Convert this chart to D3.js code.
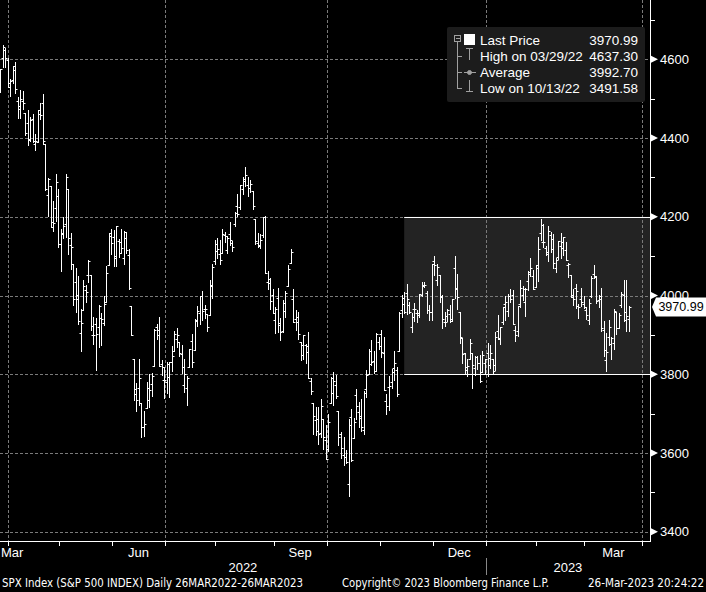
<!DOCTYPE html>
<html><head><meta charset="utf-8">
<script src="https://cdn.jsdelivr.net/npm/d3@7"></script>
<style>html,body{margin:0;padding:0;background:#000;overflow:hidden}</style>
</head><body>
<svg id="c" width="706" height="592"></svg>
<script>
// ---------- DATA (SPX daily, 28 Mar 2022 – 24 Mar 2023) ----------
const dates = [
"2022-03-28","2022-03-29","2022-03-30","2022-03-31","2022-04-01","2022-04-04","2022-04-05","2022-04-06","2022-04-07","2022-04-08",
"2022-04-11","2022-04-12","2022-04-13","2022-04-14","2022-04-18","2022-04-19","2022-04-20","2022-04-21","2022-04-22","2022-04-25",
"2022-04-26","2022-04-27","2022-04-28","2022-04-29","2022-05-02","2022-05-03","2022-05-04","2022-05-05","2022-05-06","2022-05-09",
"2022-05-10","2022-05-11","2022-05-12","2022-05-13","2022-05-16","2022-05-17","2022-05-18","2022-05-19","2022-05-20","2022-05-23",
"2022-05-24","2022-05-25","2022-05-26","2022-05-27","2022-05-31","2022-06-01","2022-06-02","2022-06-03","2022-06-06","2022-06-07",
"2022-06-08","2022-06-09","2022-06-10","2022-06-13","2022-06-14","2022-06-15","2022-06-16","2022-06-17","2022-06-21","2022-06-22",
"2022-06-23","2022-06-24","2022-06-27","2022-06-28","2022-06-29","2022-06-30","2022-07-01","2022-07-05","2022-07-06","2022-07-07",
"2022-07-08","2022-07-11","2022-07-12","2022-07-13","2022-07-14","2022-07-15","2022-07-18","2022-07-19","2022-07-20","2022-07-21",
"2022-07-22","2022-07-25","2022-07-26","2022-07-27","2022-07-28","2022-07-29","2022-08-01","2022-08-02","2022-08-03","2022-08-04",
"2022-08-05","2022-08-08","2022-08-09","2022-08-10","2022-08-11","2022-08-12","2022-08-15","2022-08-16","2022-08-17","2022-08-18",
"2022-08-19","2022-08-22","2022-08-23","2022-08-24","2022-08-25","2022-08-26","2022-08-29","2022-08-30","2022-08-31","2022-09-01",
"2022-09-02","2022-09-06","2022-09-07","2022-09-08","2022-09-09","2022-09-12","2022-09-13","2022-09-14","2022-09-15","2022-09-16",
"2022-09-19","2022-09-20","2022-09-21","2022-09-22","2022-09-23","2022-09-26","2022-09-27","2022-09-28","2022-09-29","2022-09-30",
"2022-10-03","2022-10-04","2022-10-05","2022-10-06","2022-10-07","2022-10-10","2022-10-11","2022-10-12","2022-10-13","2022-10-14",
"2022-10-17","2022-10-18","2022-10-19","2022-10-20","2022-10-21","2022-10-24","2022-10-25","2022-10-26","2022-10-27","2022-10-28",
"2022-10-31","2022-11-01","2022-11-02","2022-11-03","2022-11-04","2022-11-07","2022-11-08","2022-11-09","2022-11-10","2022-11-11",
"2022-11-14","2022-11-15","2022-11-16","2022-11-17","2022-11-18","2022-11-21","2022-11-22","2022-11-23","2022-11-25","2022-11-28",
"2022-11-29","2022-11-30","2022-12-01","2022-12-02","2022-12-05","2022-12-06","2022-12-07","2022-12-08","2022-12-09","2022-12-12",
"2022-12-13","2022-12-14","2022-12-15","2022-12-16","2022-12-19","2022-12-20","2022-12-21","2022-12-22","2022-12-23","2022-12-27",
"2022-12-28","2022-12-29","2022-12-30","2023-01-03","2023-01-04","2023-01-05","2023-01-06","2023-01-09","2023-01-10","2023-01-11",
"2023-01-12","2023-01-13","2023-01-17","2023-01-18","2023-01-19","2023-01-20","2023-01-23","2023-01-24","2023-01-25","2023-01-26",
"2023-01-27","2023-01-30","2023-01-31","2023-02-01","2023-02-02","2023-02-03","2023-02-06","2023-02-07","2023-02-08","2023-02-09",
"2023-02-10","2023-02-13","2023-02-14","2023-02-15","2023-02-16","2023-02-17","2023-02-21","2023-02-22","2023-02-23","2023-02-24",
"2023-02-27","2023-02-28","2023-03-01","2023-03-02","2023-03-03","2023-03-06","2023-03-07","2023-03-08","2023-03-09","2023-03-10",
"2023-03-13","2023-03-14","2023-03-15","2023-03-16","2023-03-17","2023-03-20","2023-03-21","2023-03-22","2023-03-23","2023-03-24"];

const opens = [
4541.09,4602.86,4624.20,4599.02,4540.32,4547.97,4572.45,4494.17,4474.65,4494.15,
4462.64,4437.59,4394.30,4449.12,4385.63,4390.63,4472.26,4489.17,4385.83,4255.34,
4278.14,4186.52,4222.58,4253.75,4130.61,4159.78,4181.18,4270.43,4128.17,4081.27,
4035.18,3990.08,3903.95,3963.90,4013.02,4052.00,4051.98,3899.00,3927.76,3919.42,
3942.94,3929.59,3984.60,4077.43,4151.09,4149.78,4095.41,4137.57,4134.72,4096.47,
4147.12,4101.65,3974.39,3838.15,3763.52,3764.05,3728.18,3665.90,3715.31,3733.89,
3774.71,3821.75,3920.76,3913.00,3825.09,3785.99,3781.00,3792.61,3831.98,3858.85,
3888.26,3880.94,3851.95,3771.94,3763.99,3818.00,3883.79,3860.73,3935.32,3955.47,
3998.43,3965.72,3953.22,3951.43,4026.13,4087.33,4112.38,4104.21,4107.96,4154.85,
4115.87,4155.93,4133.11,4181.02,4227.40,4225.02,4269.37,4290.46,4280.40,4273.13,
4266.31,4195.08,4133.09,4126.55,4153.26,4198.74,4034.58,4041.25,4000.67,3936.73,
3994.66,3930.89,3909.43,3959.94,4022.94,4083.67,3990.97,3940.73,3932.41,3880.95,
3849.91,3875.23,3871.40,3782.36,3727.14,3682.72,3686.44,3651.94,3687.01,3633.48,
3609.78,3726.46,3753.25,3771.97,3706.74,3647.51,3595.86,3590.83,3520.37,3690.41,
3638.65,3746.26,3703.11,3689.05,3657.10,3762.01,3799.44,3825.97,3834.69,3808.26,
3881.85,3901.79,3852.90,3733.25,3766.98,3780.71,3817.02,3810.94,3859.89,3963.72,
3977.97,4006.41,3976.82,3919.26,3966.39,3956.23,3956.23,4000.30,4023.34,4005.36,
3964.19,3957.18,4087.14,4040.17,4052.02,3996.63,3933.28,3947.79,3954.17,3939.29,
4069.38,4015.54,3958.37,3890.91,3853.79,3810.47,3839.49,3853.26,3815.11,3843.34,
3829.56,3805.45,3829.06,3853.29,3840.36,3839.74,3823.37,3910.82,3888.57,3932.35,
3977.57,3960.60,3999.28,4002.25,3911.84,3909.04,3978.14,4001.74,3982.71,4036.08,
4053.72,4049.27,4020.85,4070.07,4158.68,4136.69,4119.57,4105.35,4153.47,4144.25,
4068.92,4096.62,4126.70,4119.50,4114.75,4077.39,4052.35,4001.83,4018.60,3973.24,
3992.36,3977.19,3963.34,3938.68,3998.02,4055.15,4048.26,3987.55,3998.66,3912.77,
3835.12,3894.01,3876.74,3878.93,3958.69,3917.47,3975.89,4002.04,3959.21,3939.21];

const highs = [
4575.65,4637.30,4627.77,4603.07,4548.70,4583.50,4593.45,4503.94,4521.16,4520.41,
4464.35,4471.00,4453.92,4460.46,4410.31,4471.03,4488.29,4512.94,4385.83,4299.02,
4278.14,4240.71,4308.45,4269.68,4169.81,4200.10,4307.66,4270.43,4157.69,4081.27,
4068.82,4049.09,3964.80,4038.88,4026.17,4090.72,4051.98,3945.96,3943.42,3975.15,
3955.68,3999.33,4075.14,4158.49,4168.34,4166.54,4177.51,4142.67,4168.78,4164.86,
4160.14,4119.10,3974.39,3838.15,3778.18,3837.56,3728.18,3707.71,3779.65,3801.79,
3802.58,3913.65,3927.72,3945.86,3836.50,3818.99,3829.82,3832.19,3870.91,3910.63,
3918.50,3880.94,3873.41,3839.50,3796.41,3863.62,3902.44,3939.81,3974.13,3999.29,
4012.44,3975.30,3953.22,4039.56,4078.95,4140.15,4144.95,4140.47,4167.66,4161.29,
4151.58,4186.62,4137.30,4211.03,4257.91,4280.47,4301.79,4325.28,4302.18,4292.53,
4266.31,4195.08,4159.77,4156.56,4200.54,4203.04,4062.99,4044.98,4015.37,3970.23,
4018.43,3942.55,3987.89,4010.50,4076.81,4119.28,4017.17,3961.94,3959.14,3880.95,
3900.45,3876.01,3907.07,3790.20,3727.14,3715.67,3717.53,3736.74,3687.01,3671.44,
3698.35,3791.92,3806.91,3797.93,3706.74,3652.17,3640.66,3608.34,3685.41,3712.00,
3689.73,3762.79,3728.58,3736.00,3757.89,3810.74,3862.85,3886.15,3859.95,3905.42,
3893.73,3911.79,3894.44,3750.59,3796.34,3813.95,3859.40,3818.20,3958.33,4001.48,
4008.97,4028.84,3983.09,3954.33,3979.89,3962.00,4003.58,4033.78,4034.02,4012.27,
3976.77,4080.11,4100.51,4080.48,4052.45,4001.51,3957.57,3966.65,3977.02,3990.71,
4100.96,4053.76,3958.37,3890.91,3854.86,3838.24,3889.82,3853.26,3845.80,3846.65,
3848.32,3858.19,3839.85,3878.46,3873.16,3839.74,3906.19,3950.57,3919.83,3970.07,
3997.76,4003.95,4015.39,4014.16,3922.94,3972.96,4039.31,4023.92,4019.55,4061.57,
4094.21,4063.85,4077.16,4148.95,4195.44,4182.36,4124.63,4176.54,4160.77,4156.23,
4094.36,4138.90,4159.77,4148.11,4136.54,4081.51,4052.35,4017.37,4028.30,3978.25,
4018.05,3997.50,3971.73,3990.84,4048.29,4078.49,4050.00,4000.41,4017.81,3934.05,
3905.05,3937.29,3894.26,3964.46,3958.91,3956.62,4009.08,4039.49,4038.93,3972.74];

const lows = [
4517.69,4581.51,4581.32,4530.41,4507.57,4539.21,4514.17,4450.04,4450.30,4474.60,
4408.38,4381.34,4392.70,4390.77,4370.30,4390.63,4448.76,4384.47,4267.62,4200.82,
4175.04,4162.90,4188.63,4124.28,4062.51,4147.08,4148.91,4106.01,4067.91,3975.48,
3958.17,3928.82,3858.87,3963.90,3983.99,4033.93,3911.91,3876.58,3810.32,3868.10,
3875.13,3925.03,3984.60,4077.43,4104.88,4073.85,4074.37,4098.67,4109.18,4080.19,
4107.20,4017.17,3900.16,3734.30,3705.68,3722.30,3639.77,3643.41,3715.31,3717.69,
3743.52,3821.75,3889.66,3820.14,3799.02,3738.67,3752.10,3742.06,3809.37,3858.85,
3869.34,3847.22,3802.36,3756.12,3721.56,3817.18,3818.63,3860.73,3922.03,3926.62,
3938.85,3943.46,3910.74,3951.43,3992.97,4079.22,4096.02,4079.81,4107.96,4135.42,
4107.31,4128.97,4112.09,4177.26,4201.41,4219.78,4256.90,4277.77,4253.08,4261.98,
4218.70,4129.86,4124.03,4119.97,4147.59,4057.66,4017.42,3965.21,3954.53,3903.65,
3906.21,3886.75,3906.03,3944.81,4022.94,4083.67,3933.72,3912.56,3888.28,3837.08,
3838.50,3827.54,3789.49,3749.45,3647.47,3644.76,3623.29,3640.61,3610.40,3584.13,
3604.93,3726.46,3722.66,3739.22,3620.73,3588.10,3568.45,3573.86,3491.58,3579.68,
3638.65,3686.53,3666.51,3656.44,3647.42,3741.65,3799.44,3824.07,3803.79,3808.26,
3863.18,3843.80,3758.68,3698.15,3708.84,3764.70,3786.28,3744.22,3859.89,3944.82,
3956.40,3953.17,3954.34,3906.54,3935.98,3933.34,3946.65,3998.66,4020.76,3955.77,
3937.65,3938.58,4050.87,4026.63,3984.49,3918.39,3922.68,3935.83,3933.04,3935.30,
3993.03,3965.65,3879.45,3827.91,3800.04,3795.62,3839.49,3764.49,3797.01,3813.22,
3780.78,3805.45,3800.34,3794.33,3815.77,3802.42,3809.56,3890.42,3877.29,3928.54,
3937.56,3947.67,3984.57,3926.59,3885.54,3897.86,3971.64,3989.79,3949.06,4013.29,
4048.70,4015.55,4020.44,4037.20,4141.88,4123.36,4103.98,4088.39,4111.35,4069.67,
4060.79,4092.67,4095.01,4103.98,4089.49,4047.95,3995.19,3976.90,3969.19,3943.08,
3973.55,3968.98,3939.05,3928.16,3995.17,4044.61,3980.31,3969.76,3908.70,3846.32,
3808.86,3873.63,3838.24,3864.11,3901.27,3916.89,3971.19,3936.17,3909.16,3909.16];

const closes = [
4575.52,4631.60,4602.45,4530.41,4545.86,4582.64,4525.12,4481.15,4500.21,4488.28,
4412.53,4397.45,4446.59,4392.59,4391.69,4462.21,4459.45,4393.66,4271.78,4296.12,
4175.20,4183.96,4287.50,4131.93,4155.38,4175.48,4300.17,4146.87,4123.34,3991.24,
4001.05,3935.18,3930.08,4023.89,4008.01,4088.85,3923.68,3900.79,3901.36,3973.75,
3941.48,3978.73,4057.84,4158.24,4132.15,4101.23,4176.82,4108.54,4121.43,4160.68,
4115.77,4017.82,3900.86,3749.63,3735.48,3789.99,3666.77,3674.84,3764.79,3759.89,
3795.73,3911.74,3900.11,3821.55,3818.83,3785.38,3825.33,3831.39,3845.08,3902.62,
3899.38,3854.43,3818.80,3801.78,3790.38,3863.16,3830.85,3936.69,3959.90,3998.95,
3961.63,3966.84,3921.05,4023.61,4072.43,4130.29,4118.63,4091.19,4155.17,4151.94,
4145.19,4140.06,4122.47,4210.24,4207.27,4280.15,4297.14,4305.20,4274.04,4283.74,
4228.48,4137.99,4128.73,4140.77,4199.12,4057.66,4030.61,3986.16,3955.00,3966.85,
3924.26,3908.19,3979.87,4006.18,4067.36,4110.41,3932.69,3946.01,3901.35,3873.33,
3899.89,3855.93,3789.93,3757.99,3693.23,3655.04,3647.29,3719.04,3640.47,3585.62,
3678.43,3790.93,3783.28,3744.52,3639.66,3612.39,3588.84,3577.03,3669.91,3583.07,
3677.95,3719.98,3695.16,3665.78,3752.75,3797.34,3859.11,3830.60,3807.30,3901.06,
3871.98,3856.10,3759.69,3719.89,3770.55,3806.80,3828.11,3748.57,3956.37,3992.93,
3957.25,3991.73,3958.79,3946.56,3965.34,3949.94,4003.58,4027.26,4026.12,3963.94,
3957.63,4080.11,4076.57,4071.70,3998.84,3941.26,3933.92,3963.51,3934.38,3990.56,
4019.65,3995.32,3895.75,3852.36,3817.66,3821.62,3878.44,3822.39,3844.82,3829.25,
3783.22,3849.28,3839.50,3824.14,3852.97,3808.10,3895.08,3892.09,3919.25,3969.61,
3983.17,3999.09,3990.97,3928.86,3898.85,3972.61,4019.81,4016.95,4016.22,4060.43,
4070.56,4017.77,4076.60,4119.21,4179.76,4136.48,4111.08,4164.00,4117.86,4081.50,
4090.46,4137.29,4136.13,4147.60,4090.41,4079.09,3997.34,3991.05,4012.32,3970.04,
3982.24,3970.15,3951.39,3981.35,4045.64,4048.42,3986.37,3992.01,3918.32,3861.59,
3855.76,3919.29,3891.93,3960.28,3916.64,3951.57,4002.87,3936.97,3948.72,3970.99];

// trading days on the axis after the last bar
const extraAxisDates = ["2023-03-27","2023-03-28","2023-03-29","2023-03-30","2023-03-31","2023-04-03"];
const yTicks = [3400, 3600, 3800, 4000, 4200, 4400, 4600];
const yMinorTicks = [3500, 3700, 3900, 4100, 4300, 4500, 4700];
const monthLabelKeys = ["2022-03","2022-06","2022-09","2022-12","2023-03"];
const monthLabelTexts = ["Mar","Jun","Sep","Dec","Mar"];
const gridMonths = ["01","04","07","10"];
const yearLabels = ["2022","2023"];
const boxRange = [3800, 4200];
const boxStartDate = "2022-11-14";
const legendNames = ["Last Price","High on 03/29/22","Average","Low on 10/13/22"];
const legendValues = ["3970.99","4637.30","3992.70","3491.58"];
const lastPrice = 3970.99;
const footerTexts = ["SPX Index (S&P 500 INDEX)  Daily 26MAR2022-26MAR2023","Copyright\u00A9 2023 Bloomberg Finance L.P.","26-Mar-2023 20:24:22"];

// ---------- DRAW ----------
const svg = d3.select("#c");
const FONT = "'Liberation Sans', Arial, sans-serif";
const NARROW = "'DejaVu Sans Condensed','Liberation Sans Narrow','Liberation Sans',sans-serif";
const plotRight = 650, plotBottom = 541;
svg.append("rect").attr("width",706).attr("height",592).attr("fill","#000");

const axisDates = dates.concat(extraAxisDates);
const x = d3.scaleLinear().domain([0, 249]).range([0, 629]);
const y = d3.scaleLinear().domain([3400, 4600]).range([531.7, 59.3]);
const px = v => Math.round(v) + 0.5;

const monthStarts = [];
axisDates.forEach((d, i) => {
  if (i > 0 && d.slice(0,7) !== axisDates[i-1].slice(0,7)) monthStarts.push({i, key: d.slice(0,7)});
});
const tickX = i => x(i - 0.7);

// highlight box
const bx0 = x(dates.indexOf(boxStartDate));
svg.append("rect").attr("x", bx0).attr("y", y(boxRange[1]))
  .attr("width", plotRight - bx0).attr("height", y(boxRange[0]) - y(boxRange[1]))
  .attr("fill", "#232323");

// grid
const grid = svg.append("g").attr("stroke", "#7a7a7a").attr("stroke-width", 1).attr("stroke-dasharray", "3,2");
yTicks.forEach(v => grid.append("line").attr("x1", 0).attr("x2", plotRight).attr("y1", px(y(v))).attr("y2", px(y(v))));
monthStarts.filter(m => gridMonths.includes(m.key.slice(5))).forEach(m =>
  grid.append("line").attr("x1", px(tickX(m.i))).attr("x2", px(tickX(m.i))).attr("y1", 0).attr("y2", plotBottom));

// box edges
boxRange.forEach(v => svg.append("line").attr("x1", bx0).attr("x2", plotRight)
  .attr("y1", px(y(v))).attr("y2", px(y(v))).attr("stroke", "#fff").attr("stroke-width", 1));

// OHLC bars
const bars = svg.append("g").attr("stroke", "#fff").attr("stroke-width", 1).attr("fill", "none");
dates.forEach((d, i) => {
  const cx = px(x(i));
  const yh = Math.round(y(highs[i])), yl = Math.round(y(lows[i]));
  const yo = px(y(opens[i])), yc = px(y(closes[i]));
  bars.append("path").attr("d",
    `M${cx},${yh}V${yl + 1}M${cx - 2},${yo}H${cx}M${cx},${yc}H${cx + 2}`);
});

// axes lines
svg.append("line").attr("x1", plotRight + 0.5).attr("x2", plotRight + 0.5).attr("y1", 0).attr("y2", plotBottom + 1).attr("stroke", "#fff");
svg.append("line").attr("x1", 0).attr("x2", plotRight + 1).attr("y1", plotBottom + 0.5).attr("y2", plotBottom + 0.5).attr("stroke", "#fff");

// right axis ticks
yMinorTicks.forEach(v => svg.append("line").attr("x1", plotRight).attr("x2", plotRight + 5)
  .attr("y1", px(y(v))).attr("y2", px(y(v))).attr("stroke", "#fff"));
yTicks.forEach(v => {
  const yy = y(v);
  svg.append("path").attr("d", `M${plotRight + 1},${yy - 3.5}L${plotRight + 8},${yy}L${plotRight + 1},${yy + 3.5}Z`).attr("fill", "#fff");
  svg.append("text").attr("x", plotRight + 10).attr("y", yy).attr("dy", "0.36em")
    .attr("fill", "#fff").attr("font-family", FONT).attr("font-size", 13).text(v);
});

// last price label
const ly = y(lastPrice);
svg.append("path").attr("d", `M${plotRight + 2},${ly}L${plotRight + 6},${ly - 9.5}H706V${ly + 9.5}H${plotRight + 6}Z`).attr("fill", "#fff");
svg.append("text").attr("x", 681).attr("y", ly).attr("dy", "0.36em").attr("text-anchor", "middle")
  .attr("fill", "#000").attr("font-family", FONT).attr("font-size", 12.5).text(lastPrice.toFixed(2));

// bottom ticks
monthStarts.forEach(m => svg.append("line").attr("x1", px(tickX(m.i))).attr("x2", px(tickX(m.i)))
  .attr("y1", plotBottom).attr("y2", plotBottom + 5).attr("stroke", "#fff"));

// month labels
monthLabelKeys.forEach((k, j) => {
  const s = monthStarts.findIndex(m => m.key === k);
  const t = svg.append("text").attr("y", 557).attr("fill", "#fff").attr("font-family", FONT).attr("font-size", 13).text(monthLabelTexts[j]);
  if (s < 0) { t.attr("x", 1).attr("text-anchor", "start"); }
  else {
    const a = tickX(monthStarts[s].i);
    const b = s + 1 < monthStarts.length ? tickX(monthStarts[s + 1].i) : plotRight;
    t.attr("x", (a + b) / 2).attr("text-anchor", "middle");
  }
});

// year labels and separator
const janX = tickX(monthStarts.find(m => m.key === "2023-01").i);
svg.append("text").attr("x", janX / 2).attr("y", 572).attr("text-anchor", "middle").attr("fill", "#fff")
  .attr("font-family", FONT).attr("font-size", 13).text(yearLabels[0]);
svg.append("text").attr("x", (janX + plotRight) / 2).attr("y", 572).attr("text-anchor", "middle").attr("fill", "#fff")
  .attr("font-family", FONT).attr("font-size", 13).text(yearLabels[1]);
svg.append("line").attr("x1", px(janX)).attr("x2", px(janX)).attr("y1", 558).attr("y2", 575).attr("stroke", "#888");

// legend
const lg = svg.append("g");
lg.append("rect").attr("x", 447).attr("y", 27).attr("width", 198).attr("height", 75).attr("rx", 2).attr("fill", "#1c1c1c");
const rowsY = [40, 56, 72, 88];
const ic = lg.append("g").attr("stroke", "#a0a0a0").attr("fill", "none").attr("stroke-width", 1);
ic.append("rect").attr("x", 454.5).attr("y", 35.5).attr("width", 6).attr("height", 6);
ic.append("line").attr("x1", 456).attr("x2", 460).attr("y1", 38.5).attr("y2", 38.5);
ic.append("line").attr("x1", 457.5).attr("x2", 457.5).attr("y1", 42).attr("y2", 88);
[56, 72, 88].forEach(yy => ic.append("line").attr("x1", 457).attr("x2", 462).attr("y1", yy + 0.5).attr("y2", yy + 0.5));
lg.append("rect").attr("x", 464).attr("y", 34).attr("width", 11).attr("height", 11).attr("fill", "#fff");
ic.append("path").attr("d", "M466,48.5H473M469.5,48.5V60");
ic.append("path").attr("d", "M464,72.5H476");
ic.append("circle").attr("cx", 469.5).attr("cy", 72.5).attr("r", 2).attr("fill", "#a0a0a0");
ic.append("path").attr("d", "M469.5,80V91.5M466,91.5H473");
legendNames.forEach((n, j) => {
  lg.append("text").attr("x", 480).attr("y", rowsY[j]).attr("dy", "0.36em").attr("fill", "#fff")
    .attr("font-family", FONT).attr("font-size", 13.5).text(n);
  lg.append("text").attr("x", 638).attr("y", rowsY[j]).attr("dy", "0.36em").attr("text-anchor", "end").attr("fill", "#fff")
    .attr("font-family", FONT).attr("font-size", 13.5).text(legendValues[j]);
});

// footer
const fx = [[2, 301], [342, 207], [588, 116]];
footerTexts.forEach((t, j) => svg.append("text").attr("x", fx[j][0]).attr("y", 587)
  .attr("textLength", fx[j][1]).attr("lengthAdjust", "spacingAndGlyphs")
  .attr("fill", "#fff").attr("font-family", NARROW).attr("font-size", 11.5).text(t));
</script>
</body></html>
